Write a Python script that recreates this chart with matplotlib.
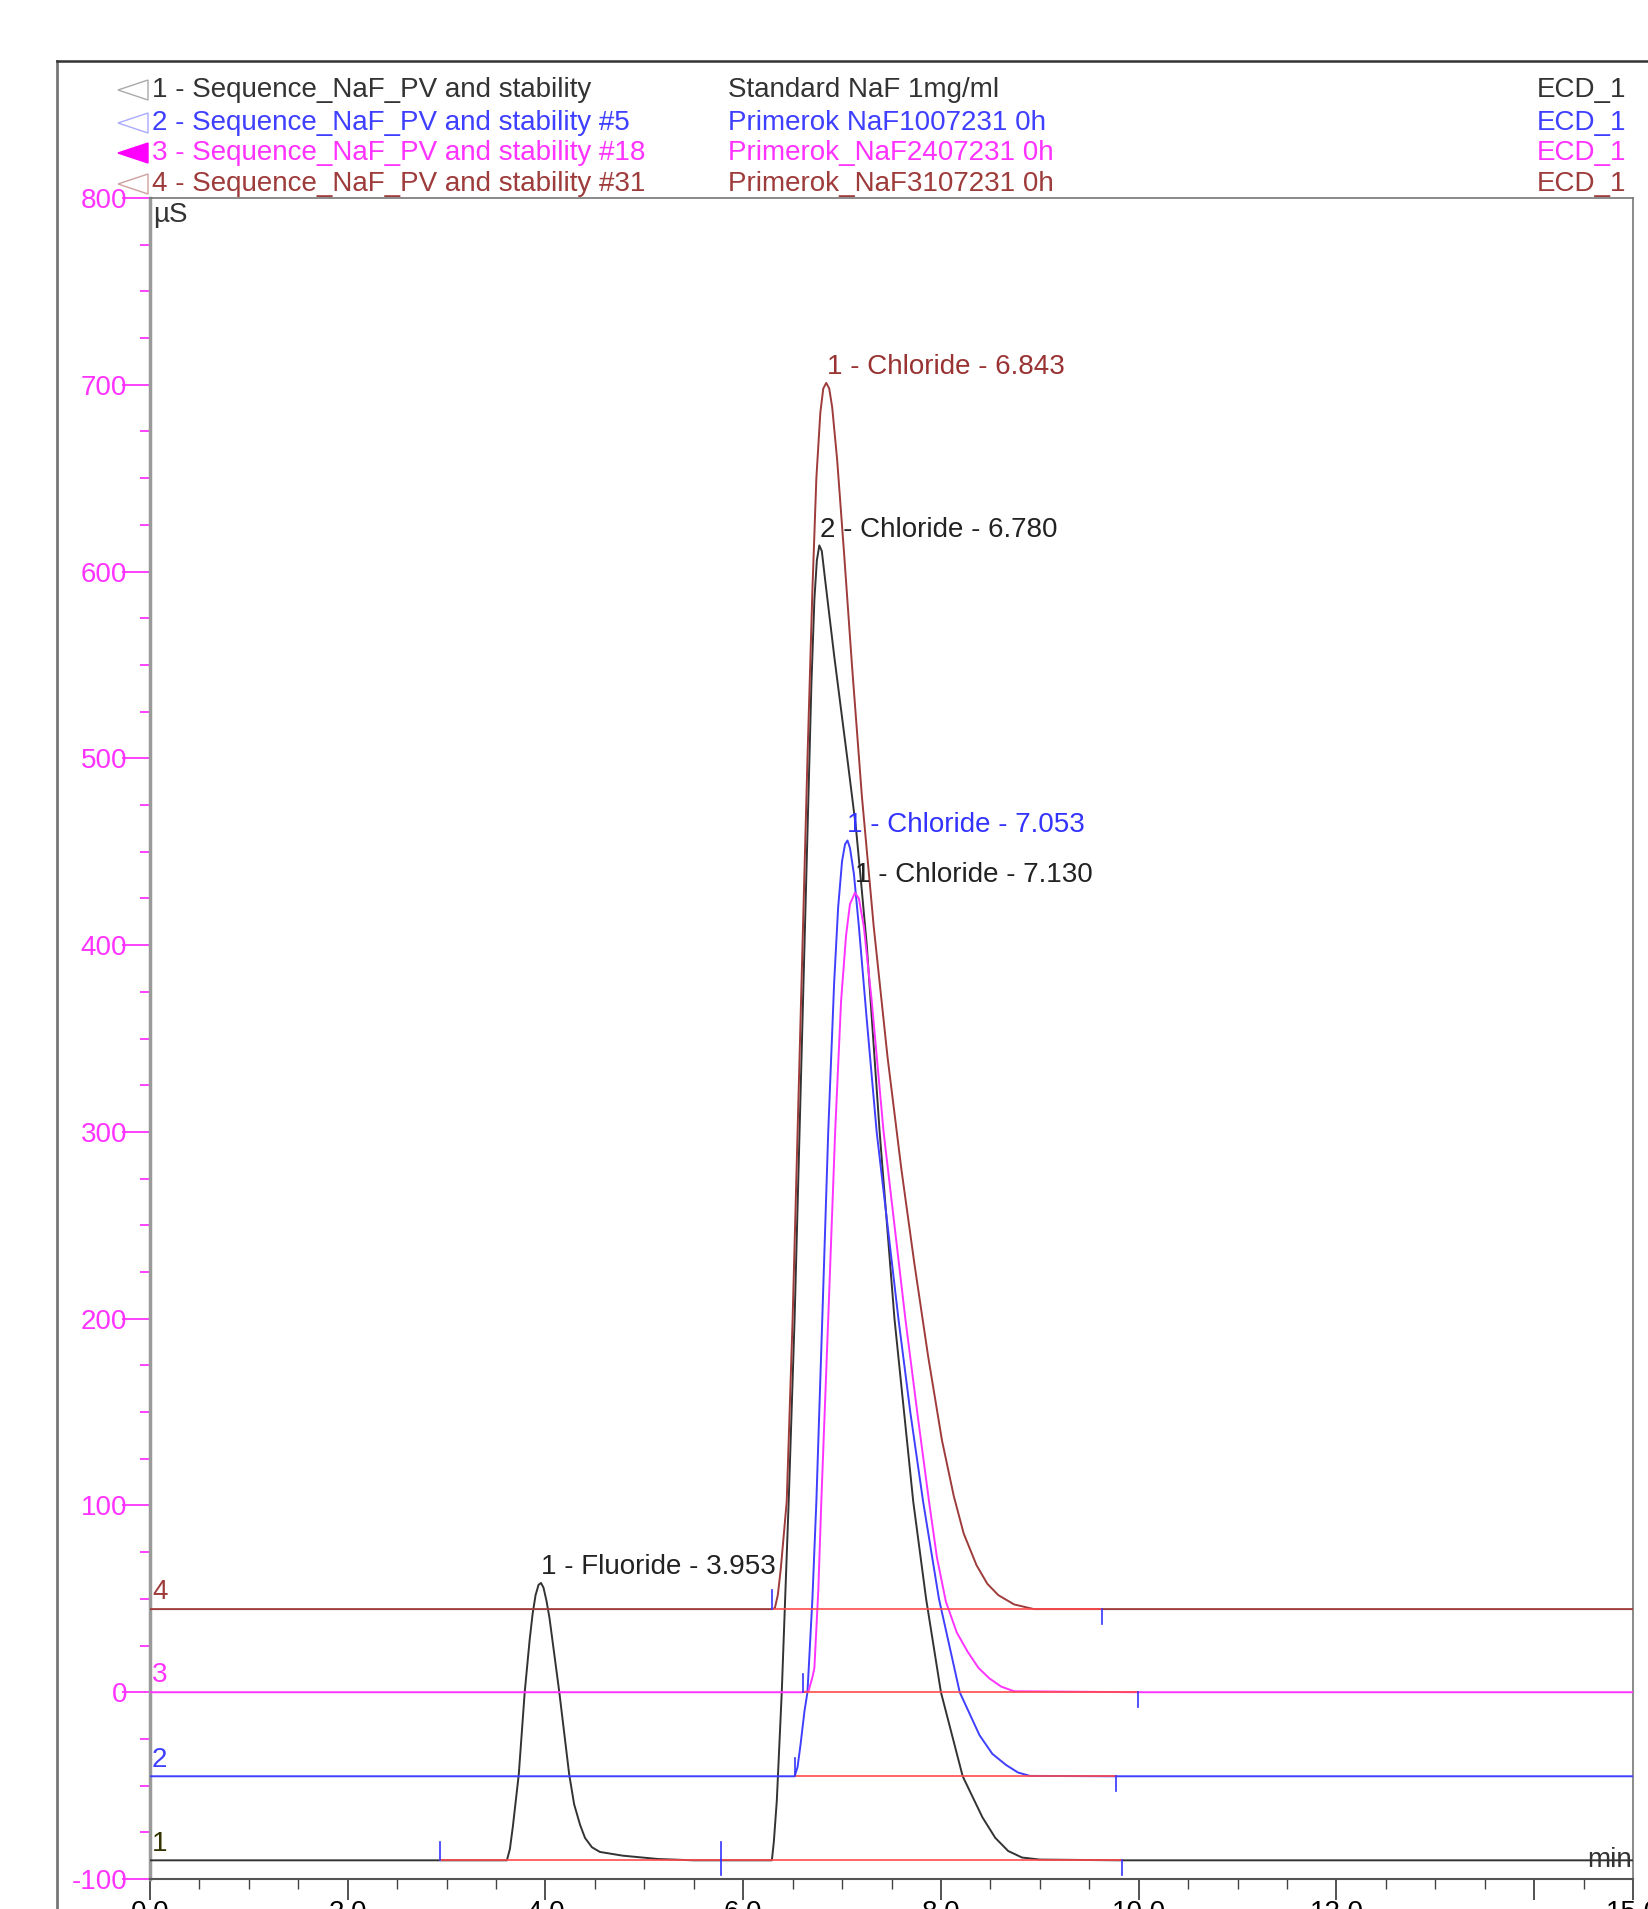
import numpy as np
import matplotlib.pyplot as plt
from matplotlib.lines import Line2D
from matplotlib.patches import Polygon
from matplotlib.ticker import MultipleLocator

plt.rcParams['font.family'] = ['Liberation Sans', 'DejaVu Sans']
plt.rcParams['axes.unicode_minus'] = False

W, H = 1648, 1909

# ---- data (time in min, signal in uS) ----
t1 = [0, 2.93, 3.61, 3.64, 3.67, 3.70, 3.73, 3.76, 3.79, 3.84, 3.87, 3.90, 3.93, 3.955,
      3.98, 4.01, 4.04, 4.09, 4.14, 4.19, 4.24, 4.29, 4.35, 4.40, 4.47, 4.55, 4.78, 5.14,
      5.5, 5.78, 6.29, 6.31, 6.34, 6.39, 6.46, 6.52, 6.57, 6.62, 6.66, 6.69, 6.72, 6.745,
      6.77, 6.795, 6.83, 6.92, 7.06, 7.14, 7.19, 7.25, 7.38, 7.53, 7.72, 7.85,
      8.00, 8.22, 8.42, 8.55, 8.68, 8.82, 9.00, 9.83, 15]
v1 = [-90, -90, -90, -84, -72, -58, -44, -22, 0, 28, 42, 52, 57.5, 58.5,
      56, 49, 40, 20, 0, -22, -44, -60, -71, -78, -83, -85.5, -87.5, -89.3,
      -90, -90, -90, -80, -58, 0, 102, 200, 300, 400, 480, 540, 585, 606,
      614, 611, 595, 555, 497, 463, 435, 400, 300, 200, 102, 50,
      0, -45, -67, -78, -85, -88.5, -89.6, -90, -90]

t2 = [0, 6.52, 6.55, 6.58, 6.62, 6.65, 6.70, 6.74, 6.80, 6.86, 6.92, 6.96, 7.00, 7.03,
      7.055, 7.08, 7.12, 7.17, 7.25, 7.35, 7.46, 7.57, 7.69, 7.82, 7.98, 8.19, 8.39, 8.52,
      8.66, 8.78, 8.90, 9.77, 15]
v2 = [-45, -45, -40, -28, -10, 0, 50, 102, 200, 300, 380, 420, 445, 454,
      456, 452, 438, 410, 360, 300, 250, 200, 150, 102, 50, 0, -23, -33,
      -39, -43, -44.8, -45, -45]

t3 = [0, 6.60, 6.66, 6.70, 6.72, 6.76, 6.79, 6.86, 6.93, 6.99, 7.04, 7.08, 7.13, 7.17,
      7.22, 7.30, 7.42, 7.53, 7.64, 7.76, 7.88, 7.96, 8.05, 8.16, 8.27, 8.38, 8.49, 8.61,
      8.74, 9.99, 15]
v3 = [0, 0, 0.5, 8, 13, 55, 102, 200, 300, 370, 405, 422, 428, 425,
      410, 370, 300, 250, 200, 150, 102, 72, 48.5, 32, 21.7, 13, 7.4, 3,
      0.5, 0, 0]

t4 = [0, 6.29, 6.32, 6.35, 6.38, 6.44, 6.50, 6.55, 6.60, 6.65, 6.70, 6.74, 6.78, 6.81,
      6.84, 6.87, 6.90, 6.95, 7.02, 7.10, 7.20, 7.32, 7.46, 7.60, 7.73, 7.87, 8.01, 8.13,
      8.23, 8.36, 8.47, 8.58, 8.74, 8.94, 9.63, 15]
v4 = [44.5, 44.5, 45, 52, 66, 102, 200, 300, 400, 500, 590, 650, 685, 698,
      701, 698, 688, 660, 610, 550, 480, 410, 340, 280, 230, 180, 135, 105,
      85, 68, 58, 52, 47, 44.5, 44.5, 44.5]

# integration baselines: (start, end, level) and peak labels (apex time, apex height)
base_segments = [(2.93, 5.78, -90), (5.78, 9.83, -90), (6.52, 9.77, -45),
                 (6.60, 9.99, 0), (6.29, 9.63, 44.5)]
peak_labels = [(3.953, 58.5, '1 - Fluoride - 3.953', '#222222'),
               (6.780, 614, '2 - Chloride - 6.780', '#222222'),
               (7.053, 456, '1 - Chloride - 7.053', '#3333ff'),
               (7.130, 429, '1 - Chloride - 7.130', '#222222'),
               (6.843, 701, '1 - Chloride - 6.843', '#993333')]

names = ['1 - Sequence_NaF_PV and stability', '2 - Sequence_NaF_PV and stability #5',
         '3 - Sequence_NaF_PV and stability #18', '4 - Sequence_NaF_PV and stability #31']
samples = ['Standard NaF 1mg/ml', 'Primerok NaF1007231 0h',
           'Primerok_NaF2407231 0h', 'Primerok_NaF3107231 0h']
channel = 'ECD_1'
colors = ['#333333', '#3f3fff', '#ff33ff', '#9e3b3b']
baselines = [-90, -45, 0, 44.5]
xticks = [0, 2, 4, 6, 8, 10, 12, 14, 15]
xticklabels = ['0.0', '2.0', '4.0', '6.0', '8.0', '10.0', '12.0', '', '15.0']

fig = plt.figure(figsize=(W / 100, H / 100), dpi=100)
ax = fig.add_axes([150 / W, 30 / H, (1633 - 150) / W, (1879 - 198) / H])

for tt, vv, c in [(t1, v1, colors[0]), (t2, v2, colors[1]), (t3, v3, colors[2]), (t4, v4, colors[3])]:
    ax.plot(tt, vv, color=c, lw=1.4, zorder=3, solid_joinstyle='round')

for s, e, lev in base_segments:
    ax.plot([s, e], [lev, lev], color='#ff4a4a', lw=1.4, alpha=0.85, zorder=4)

# peak start / end markers
for s, e, lev in base_segments:
    ax.plot([s, s], [lev, lev + 10], color='#3333ff', lw=1.2, zorder=5)
    ax.plot([e, e], [lev, lev - 8], color='#3333ff', lw=1.2, zorder=5)

for x, y, s, c in peak_labels:
    ax.text(x, y + 8.5, s, color=c, fontsize=20, ha='left', va='center', zorder=6)

for i, b in enumerate(baselines):
    ax.text(0.02, b + 2, str(i + 1), color=colors[i] if i else '#333300', fontsize=20,
            ha='left', va='bottom')

ax.text(0.03, 798, 'µS', fontsize=20, ha='left', va='top', color='#333333')
ax.text(14.99, -97, 'min', fontsize=20, ha='right', va='bottom', color='#333333')

ax.set_xlim(0, 15)
ax.set_ylim(-100, 800)
ax.set_xticks(xticks)
ax.set_xticklabels(xticklabels)
ax.xaxis.set_minor_locator(MultipleLocator(0.5))
ax.yaxis.set_major_locator(MultipleLocator(100))
ax.yaxis.set_minor_locator(MultipleLocator(25))
ax.tick_params(axis='y', which='major', length=20, width=1.3, color='#ff33ff',
               labelcolor='#ff33ff', labelsize=20, pad=-3.5)
ax.tick_params(axis='y', which='minor', length=7, width=1.3, color='#ff33ff')
ax.tick_params(axis='x', which='major', length=15, width=1.3, color='#444444',
               labelsize=20, pad=0)
ax.tick_params(axis='x', which='minor', length=7, width=1.0, color='#444444')
ax.spines['left'].set_color('#9a9a9a')
ax.spines['left'].set_linewidth(2.5)
ax.spines['bottom'].set_color('#555555')
ax.spines['bottom'].set_linewidth(1.5)
for sp in ['top', 'right']:
    ax.spines[sp].set_color('#777777')
    ax.spines[sp].set_linewidth(1.2)

# outer frame
fig.add_artist(Line2D([57 / W, 57 / W], [0, 1 - 61 / H], color='#777777', lw=2))
fig.add_artist(Line2D([57 / W, 1], [1 - 61 / H, 1 - 61 / H], color='#333333', lw=1.8))

# legend header
rows_y = [90, 123, 153, 184]
for i in range(4):
    yf = 1 - rows_y[i] / H
    tri = [(118 / W, yf), (148 / W, yf + 10 / H), (148 / W, yf - 10 / H)]
    if i == 2:
        fig.add_artist(Polygon(tri, closed=True, transform=fig.transFigure,
                               facecolor='#ff00ff', edgecolor='#ff00ff'))
    else:
        ec = ['#aaaaaa', '#aaaaff', '', '#d0a0a0'][i]
        fig.add_artist(Polygon(tri, closed=True, transform=fig.transFigure,
                               facecolor='none', edgecolor=ec, lw=1))
    fig.text(152 / W, yf, names[i], color=colors[i], fontsize=20, ha='left', va='center')
    fig.text(728 / W, yf, samples[i], color=colors[i], fontsize=20, ha='left', va='center')
    fig.text(1626 / W, yf, channel, color=colors[i], fontsize=20, ha='right', va='center')

fig.savefig('out.png', dpi=100)
